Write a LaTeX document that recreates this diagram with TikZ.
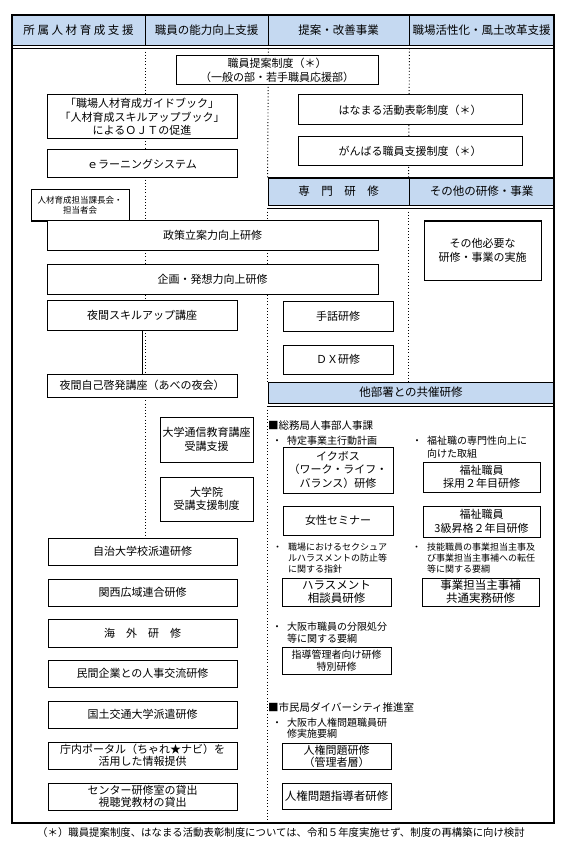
\documentclass[tikz,border=0pt]{standalone}
\usepackage{fontspec}
\setmainfont{Noto Sans CJK JP}
\usepackage{tikz}
\usetikzlibrary{backgrounds}
\definecolor{hdblue}{RGB}{197,217,241}

\begin{document}
\begin{tikzpicture}[
  x=1pt, y=-1pt,
  every node/.style={font=\fontsize{11}{13.5}\selectfont},
  hdcell/.style={draw, fill=hdblue, line width=0.9pt, inner sep=0pt,
                 font=\fontsize{11.5}{13}\selectfont},
  box/.style={draw, fill=white, align=center, inner sep=0pt, line width=1pt},
  tight/.style={font=\fontsize{11}{12}\selectfont},
  smallbox/.style={box, font=\fontsize{8.5}{10}\selectfont},
  leftbar/.style={path picture={\draw[line width=2.6pt]
                   (path picture bounding box.north west) --
                   (path picture bounding box.south west);}},
  note/.style={anchor=north west, align=left, inner sep=0pt,
               font=\fontsize{10}{13}\selectfont},
  tinynote/.style={note, font=\fontsize{9}{11}\selectfont},
  guide/.style={line width=0.9pt, dash pattern=on 1pt off 2.2pt},
  frame/.style={line width=1.6pt},
  lin/.style={line width=0.8pt},
]
\useasboundingbox (0,0) rectangle (566,850);

%% ── Column headers ──────────────────────────────────────────────────────────
\node[hdcell, minimum width=133pt, minimum height=30pt] (hdA) at (78.5,30)
  {所 属 人 材 育 成 支 援};
\node[hdcell, minimum width=123pt, minimum height=30pt] (hdB) at (206.5,30)
  {職員の能力向上支援};
\node[hdcell, minimum width=141pt, minimum height=30pt] (hdC) at (338.5,30)
  {提案・改善事業};
\node[hdcell, minimum width=145pt, minimum height=30pt] (hdD) at (481.5,30)
  {職場活性化・風土改革支援};
\draw[frame] (hdA.south west) -- (hdD.south east);
\draw[lin] ([yshift=-3pt]hdA.south west) -- ([yshift=-3pt]hdD.south east);

%% ── Proposal / improvement ──────────────────────────────────────────────────
\node[box, minimum width=202pt, minimum height=29pt] (teian) at (277,70.5)
  {職員提案制度（＊）\\（一般の部・若手職員応援部）};
\node[box, minimum width=224pt, minimum height=30pt] (hanamaru) at (410,110)
  {はなまる活動表彰制度（＊）};
\node[box, minimum width=224pt, minimum height=29pt] (ganbaru) at (410,151.5)
  {がんばる職員支援制度（＊）};

%% ── Own-unit support ────────────────────────────────────────────────────────
\node[box, minimum width=190pt, minimum height=44pt] (ojt) at (142,117)
  {「職場人材育成ガイドブック」\\「人材育成スキルアップブック」\\によるＯＪＴの促進};
\node[box, minimum width=190pt, minimum height=28pt] (elearn) at (142,164)
  {ｅラーニングシステム};
\node[smallbox, minimum width=98pt, minimum height=31pt] (kacho) at (80,205.5)
  {人材育成担当課長会・\\担当者会};

%% ── Specialist / other training headers ─────────────────────────────────────
\node[hdcell, minimum width=141pt, minimum height=27pt] (hdSen) at (338.5,191.5)
  {専　門　研　修};
\node[hdcell, minimum width=145pt, minimum height=27pt] (hdSon) at (481.5,191.5)
  {その他の研修・事業};
\draw[frame] (hdSen.north west) -- (hdSon.north east);
\draw[lin] ([yshift=-3pt]hdSen.south west) -- ([yshift=-3pt]hdSon.south east);

%% ── Ability training ────────────────────────────────────────────────────────
\node[box, minimum width=331pt, minimum height=29pt] (seisaku) at (212.5,235.5)
  {政策立案力向上研修};
\node[box, minimum width=331pt, minimum height=30pt] (kikaku) at (212.5,279)
  {企画・発想力向上研修};
\node[box, minimum width=117pt, minimum height=59pt] (sonota) at (482.5,250.5)
  {その他必要な\\研修・事業の実施};

\node[box, minimum width=190pt, minimum height=30pt] (skillup) at (142,315)
  {夜間スキルアップ講座};
\node[box, minimum width=190pt, minimum height=23pt] (abeno) at (142,385.5)
  {夜間自己啓発講座（あべの夜会）};
\node[box, leftbar, minimum width=110pt, minimum height=30pt] (shuwa) at (338,316)
  {手話研修};
\node[box, leftbar, minimum width=110pt, minimum height=29pt] (dx) at (338,359.5)
  {ＤＸ研修};

\node[box, minimum width=93pt, minimum height=45pt] (tsushin) at (206.5,439.5)
  {大学通信教育講座\\受講支援};
\node[box, minimum width=93pt, minimum height=44pt] (inshi) at (206.5,499)
  {大学院\\受講支援制度};

%% ── Joint training with other bureaus ───────────────────────────────────────
\node[hdcell, minimum width=286pt, minimum height=21pt] (hdKyo) at (411,392.5)
  {他部署との共催研修};
\draw[lin] ([yshift=-3pt]hdKyo.south west) -- ([yshift=-3pt]hdKyo.south east);

\node[note, font=\fontsize{10.5}{13}\selectfont] (somu) at (268,420)
  {■総務局人事部人事課};
\node[note] (tokutei) at (287,436)
  {\llap{・\hspace{5pt}}特定事業主行動計画};
\node[note] (fukushiNote) at (427,436)
  {\llap{・\hspace{5pt}}福祉職の専門性向上に\\向けた取組};

\node[box, leftbar, minimum width=110pt, minimum height=46pt] (ikubosu) at (338,470)
  {イクボス\\（ワーク・ライフ・\\バランス）研修};
\node[box, minimum width=117pt, minimum height=30pt] (fukushiA) at (481.5,477)
  {福祉職員\\採用２年目研修};
\node[box, leftbar, minimum width=110pt, minimum height=29pt] (josei) at (338,520.5)
  {女性セミナー};
\node[box, minimum width=117pt, minimum height=31pt] (fukushiB) at (481.5,521.5)
  {福祉職員\\3級昇格２年目研修};

\node[tinynote] (sekuhara) at (288,542.5)
  {\llap{・\hspace{6pt}}職場におけるセクシュア\\ルハラスメントの防止等\\に関する指針};
\node[tinynote] (gino) at (427,542.5)
  {\llap{・\hspace{6pt}}技能職員の事業担当主事及\\び事業担当主事補への転任\\等に関する要綱};

\node[box, leftbar, minimum width=109pt, minimum height=28pt,
      font=\fontsize{11.5}{13}\selectfont] (harass) at (336.5,592)
  {ハラスメント\\相談員研修};
\node[box, minimum width=117pt, minimum height=28pt,
      font=\fontsize{11.5}{13}\selectfont] (jigyo) at (480.5,592)
  {事業担当主事補\\共通実務研修};

\node[note, font=\fontsize{10}{12}\selectfont] (bunken) at (287,622)
  {\llap{・\hspace{5pt}}大阪市職員の分限処分\\等に関する要綱};
\node[box, leftbar, minimum width=109pt, minimum height=27pt,
      font=\fontsize{10}{12}\selectfont] (shido) at (336.5,660.5)
  {指導管理者向け研修\\特別研修};

\node[note, font=\fontsize{10.5}{13}\selectfont] (shimin) at (268,702)
  {■市民局ダイバーシティ推進室};
\node[note, font=\fontsize{10}{11}\selectfont] (jinkenNote) at (287,718)
  {\llap{・\hspace{5pt}}大阪市人権問題職員研\\修実施要綱};
\node[box, leftbar, tight, minimum width=109pt, minimum height=26pt] (jinkenA) at (336.5,756)
  {人権問題研修\\（管理者層）};
\node[box, leftbar, minimum width=109pt, minimum height=26pt,
      font=\fontsize{11.5}{13}\selectfont] (jinkenB) at (336.5,796)
  {人権問題指導者研修};

%% ── Dispatch and other support ──────────────────────────────────────────────
\node[box, minimum width=189pt, minimum height=27pt] (jichi) at (142.5,551.5)
  {自治大学校派遣研修};
\node[box, minimum width=189pt, minimum height=27pt] (kansai) at (142.5,592.5)
  {関西広域連合研修};
\node[box, minimum width=189pt, minimum height=28pt] (kaigai) at (142.5,633)
  {海　外　研　修};
\node[box, minimum width=189pt, minimum height=27pt] (minkan) at (142.5,673.5)
  {民間企業との人事交流研修};
\node[box, minimum width=189pt, minimum height=27pt] (kokudo) at (142.5,714.5)
  {国土交通大学派遣研修};
\node[box, tight, minimum width=189pt, minimum height=27pt] (portal) at (142.5,755.5)
  {庁内ポータル（ちゃれ★ナビ）を\\活用した情報提供};
\node[box, tight, minimum width=189pt, minimum height=27pt] (center) at (142.5,796.5)
  {センター研修室の貸出\\視聴覚教材の貸出};

%% ── Frame, guides, link ─────────────────────────────────────────────────────
\coordinate (fTL) at (12,15);
\coordinate (fBR) at (554,823);
\draw[frame] (fTL) rectangle (fBR);

\begin{scope}[on background layer]
  \draw[guide] ([yshift=-3pt]hdA.south east) -- (hdA.south east |- josei.south);
  \draw[guide] ([yshift=-3pt]hdB.south east) -- (hdSen.north west);
  \draw[guide] ([yshift=-3pt]hdSen.south west) -- (hdKyo.north west);
  \draw[guide] ([yshift=-3pt]hdKyo.south west) -- (hdKyo.south west |- fBR);
  \draw[guide] ([yshift=-3pt]hdC.south east) -- (hdSon.north west);
  \draw[guide] ([yshift=-3pt]hdSon.south west) -- (hdSon.south west |- hdKyo.north);
\end{scope}

\draw[lin] (skillup) -- (abeno);

\node[font=\fontsize{10.4}{12}\selectfont] (foot) at (281,833)
  {（＊）職員提案制度、はなまる活動表彰制度については、令和５年度実施せず、制度の再構築に向け検討};

\end{tikzpicture}
\end{document}
